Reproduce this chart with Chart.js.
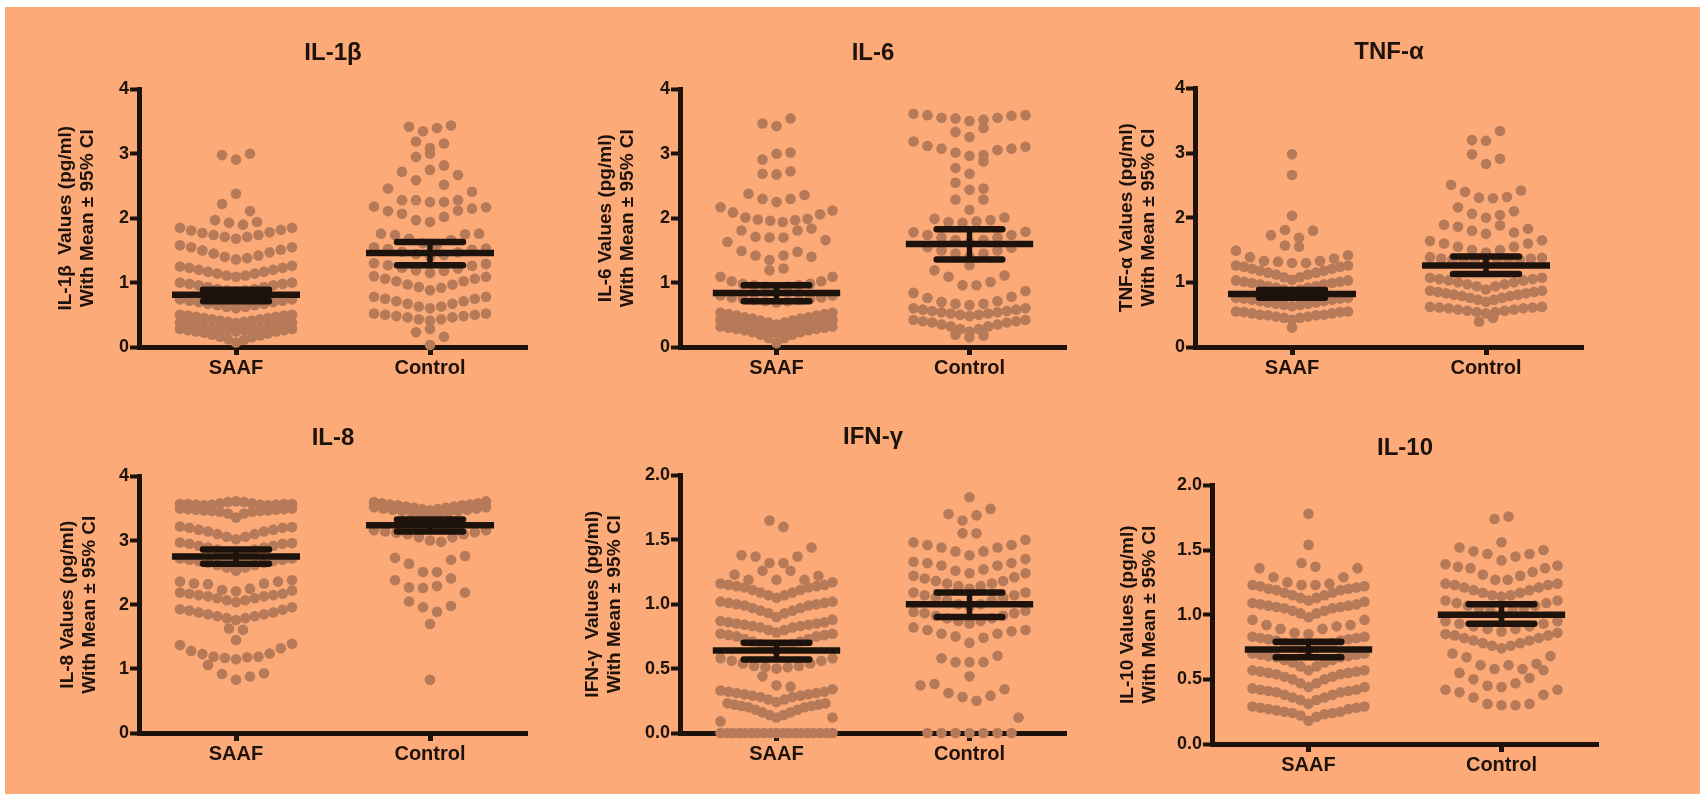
<!DOCTYPE html>
<html><head><meta charset="utf-8">
<script src="https://cdn.jsdelivr.net/npm/chart.js@4.4.1/dist/chart.umd.min.js"></script>
<style>
html,body{margin:0;padding:0;background:#ffffff;}
body{width:1706px;height:794px;position:relative;overflow:hidden;}
#bg{position:absolute;left:5px;top:7px;width:1695px;height:787px;background:#FCAA78;}
canvas{position:absolute;}
</style></head><body><div id="bg"></div>
<script>
// ---------- DATA (each inner list = one horizontal band, left to right) ----------
const categories = ['SAAF', 'Control'];

const il1bSAAF = [
  [2.98, 2.91, 3.00],
  [2.22, 2.38, 2.11],
  [1.97, 1.93, 1.90, 1.94],
  [1.85, 1.81, 1.77, 1.74, 1.71, 1.68, 1.71, 1.74, 1.78, 1.82, 1.85],
  [1.58, 1.55, 1.50, 1.45, 1.40, 1.36, 1.38, 1.42, 1.47, 1.51, 1.55],
  [1.25, 1.23, 1.20, 1.17, 1.14, 1.11, 1.09, 1.11, 1.14, 1.17, 1.20, 1.23, 1.26],
  [1.00, 0.98, 0.96, 0.93, 0.90, 0.88, 0.86, 0.88, 0.90, 0.93, 0.96, 0.98, 1.00],
  [0.74, 0.72, 0.70, 0.67, 0.65, 0.62, 0.60, 0.62, 0.65, 0.67, 0.70, 0.72, 0.74],
  [0.50, 0.49, 0.47, 0.45, 0.43, 0.41, 0.39, 0.37, 0.39, 0.41, 0.43, 0.45, 0.47, 0.49, 0.50],
  [0.38, 0.36, 0.34, 0.32, 0.30, 0.28, 0.26, 0.24, 0.26, 0.28, 0.30, 0.32, 0.34, 0.36, 0.38],
  [0.28, 0.26, 0.24, 0.22, 0.19, 0.16, 0.12, 0.07, 0.11, 0.15, 0.18, 0.21, 0.24, 0.26, 0.28]
];
const il1bControl = [
  [3.42, 3.35, 3.40, 3.44],
  [3.19, 3.09, 3.16],
  [2.95, 3.00, 2.82],
  [2.72, 2.59, 2.75, 2.52, 2.67],
  [2.46, 2.28, 2.28, 2.25, 2.25, 2.28, 2.41],
  [2.18, 2.11, 2.07, 1.97, 1.94, 2.02, 2.12, 2.15, 2.17],
  [1.76, 1.74, 1.68, 1.61, 1.58, 1.66, 1.75, 1.76],
  [1.55, 1.52, 1.48, 1.44, 1.40, 1.43, 1.47, 1.51, 1.53],
  [1.30, 1.27, 1.23, 1.19, 1.15, 1.18, 1.22, 1.26, 1.29],
  [1.10, 1.06, 1.02, 0.97, 0.93, 0.88, 0.92, 0.97, 1.02, 1.06, 1.09],
  [0.78, 0.75, 0.71, 0.67, 0.63, 0.60, 0.63, 0.67, 0.71, 0.75, 0.78],
  [0.52, 0.50, 0.48, 0.46, 0.43, 0.41, 0.43, 0.46, 0.48, 0.50, 0.52],
  [0.23, 0.28, 0.16],
  [0.03]
];
const il1bMean = [0.81, 1.46];
const il1bLow  = [0.71, 1.27];
const il1bHigh = [0.89, 1.63];

const il6SAAF = [
  [3.47, 3.43, 3.55],
  [2.91, 3.00, 3.02],
  [2.69, 2.68, 2.73],
  [2.38, 2.30, 2.25, 2.30, 2.36],
  [2.17, 2.09, 2.01, 1.98, 1.96, 1.94, 1.97, 1.99, 2.06, 2.12],
  [1.63, 1.81, 1.71, 1.70, 1.70, 1.81, 1.84, 1.66],
  [1.49, 1.42, 1.35, 1.42, 1.48, 1.40],
  [1.19, 1.22],
  [1.09, 1.02, 0.98, 0.96, 0.94, 0.92, 0.94, 0.96, 0.98, 1.02, 1.09],
  [0.80, 0.77, 0.75, 0.73, 0.71, 0.69, 0.71, 0.73, 0.75, 0.77, 0.80],
  [0.53, 0.51, 0.49, 0.46, 0.44, 0.41, 0.38, 0.35, 0.38, 0.41, 0.44, 0.46, 0.49, 0.51, 0.53],
  [0.42, 0.40, 0.38, 0.36, 0.33, 0.30, 0.27, 0.22, 0.27, 0.30, 0.33, 0.36, 0.38, 0.40, 0.42],
  [0.32, 0.30, 0.28, 0.26, 0.23, 0.19, 0.14, 0.06, 0.14, 0.19, 0.23, 0.26, 0.28, 0.30, 0.32]
];
const il6Control = [
  [3.62, 3.60, 3.56, 3.55, 3.51, 3.53, 3.56, 3.59, 3.60],
  [3.34, 3.26, 3.40],
  [3.19, 3.12, 3.08, 3.02, 2.97, 2.98, 3.06, 3.08, 3.11],
  [2.78, 2.69, 2.88],
  [2.55, 2.44, 2.46],
  [2.29, 2.13, 2.29],
  [1.99, 1.94, 1.93, 1.95, 1.97, 2.01],
  [1.78, 1.74, 1.70, 1.66, 1.62, 1.66, 1.70, 1.74, 1.79],
  [1.55, 1.50, 1.45, 1.40, 1.45, 1.50, 1.54],
  [1.27],
  [1.19, 1.09, 0.96, 0.96, 1.01, 1.11],
  [0.84, 0.76, 0.70, 0.67, 0.65, 0.67, 0.71, 0.78, 0.87],
  [0.60, 0.58, 0.56, 0.54, 0.52, 0.50, 0.48, 0.50, 0.52, 0.54, 0.56, 0.58, 0.60],
  [0.42, 0.40, 0.38, 0.35, 0.32, 0.28, 0.24, 0.28, 0.32, 0.35, 0.38, 0.40, 0.42],
  [0.19, 0.15, 0.18]
];
const il6Mean = [0.84, 1.60];
const il6Low  = [0.71, 1.36];
const il6High = [0.96, 1.83];

const tnfSAAF = [
  [2.98],
  [2.66],
  [2.03],
  [1.73, 1.81, 1.69, 1.80],
  [1.57, 1.55],
  [1.49, 1.39, 1.33, 1.32, 1.30, 1.30, 1.33, 1.37, 1.42],
  [1.26, 1.24, 1.21, 1.18, 1.15, 1.12, 1.08, 1.04, 1.08, 1.12, 1.15, 1.18, 1.21, 1.24, 1.26],
  [1.03, 1.01, 0.99, 0.97, 0.94, 0.92, 0.89, 0.86, 0.89, 0.92, 0.94, 0.97, 0.99, 1.01, 1.03],
  [0.76, 0.75, 0.73, 0.71, 0.69, 0.67, 0.65, 0.63, 0.65, 0.67, 0.69, 0.71, 0.73, 0.75, 0.76],
  [0.55, 0.54, 0.52, 0.50, 0.49, 0.47, 0.45, 0.42, 0.45, 0.47, 0.49, 0.50, 0.52, 0.54, 0.55],
  [0.30]
];
const tnfControl = [
  [3.20, 3.19, 3.34],
  [2.98, 2.83, 2.91],
  [2.51, 2.40, 2.31, 2.30, 2.32, 2.42],
  [2.16, 2.06, 2.00, 2.04, 2.10],
  [1.89, 1.86, 1.80, 1.75, 1.88, 1.77, 1.83],
  [1.64, 1.60, 1.55, 1.50, 1.46, 1.50, 1.55, 1.60, 1.65],
  [1.39, 1.37, 1.35, 1.33, 1.31, 1.29, 1.31, 1.33, 1.35, 1.37, 1.38],
  [1.07, 1.05, 1.03, 1.00, 0.97, 0.94, 0.89, 0.94, 0.97, 1.00, 1.03, 1.05, 1.07],
  [0.87, 0.85, 0.83, 0.81, 0.79, 0.76, 0.73, 0.70, 0.73, 0.76, 0.79, 0.81, 0.83, 0.85, 0.87],
  [0.62, 0.61, 0.60, 0.58, 0.56, 0.54, 0.52, 0.54, 0.56, 0.58, 0.60, 0.61, 0.62],
  [0.39, 0.45]
];
const tnfMean = [0.82, 1.26];
const tnfLow  = [0.76, 1.13];
const tnfHigh = [0.88, 1.40];

const il8SAAF = [
  [3.57, 3.57, 3.56, 3.55, 3.56, 3.58, 3.60, 3.61, 3.60, 3.58, 3.56, 3.55, 3.56, 3.57, 3.57],
  [3.50, 3.49, 3.48, 3.47, 3.46, 3.45, 3.42, 3.36, 3.42, 3.45, 3.46, 3.47, 3.48, 3.49, 3.50],
  [3.22, 3.20, 3.17, 3.14, 3.10, 3.06, 3.02, 3.06, 3.10, 3.14, 3.17, 3.20, 3.21],
  [2.97, 2.95, 2.92, 2.89, 2.86, 2.83, 2.80, 2.83, 2.86, 2.89, 2.92, 2.95, 2.96],
  [2.72, 2.70, 2.68, 2.65, 2.62, 2.58, 2.53, 2.58, 2.62, 2.65, 2.68, 2.70, 2.72],
  [2.36, 2.33, 2.32, 2.23, 2.21, 2.25, 2.33, 2.36, 2.38],
  [2.19, 2.17, 2.15, 2.13, 2.10, 2.07, 2.04, 2.07, 2.10, 2.13, 2.15, 2.17, 2.22],
  [1.93, 1.91, 1.88, 1.85, 1.82, 1.79, 1.76, 1.79, 1.82, 1.85, 1.88, 1.92, 1.96],
  [1.63, 1.61],
  [1.45],
  [1.37, 1.28, 1.23, 1.19, 1.17, 1.15, 1.18, 1.19, 1.24, 1.32, 1.39],
  [1.06, 0.92, 0.83, 0.88, 0.93]
];
const il8Control = [
  [3.60, 3.58, 3.56, 3.55, 3.53, 3.51, 3.49, 3.47, 3.49, 3.51, 3.53, 3.55, 3.56, 3.58, 3.61],
  [3.52, 3.50, 3.48, 3.46, 3.44, 3.42, 3.40, 3.42, 3.44, 3.46, 3.48, 3.50, 3.52],
  [3.16, 3.14, 3.12, 3.10, 3.05, 3.00, 2.98, 3.05, 3.10, 3.13, 3.16],
  [2.73, 2.64, 2.51, 2.51, 2.70, 2.76],
  [2.38, 2.27, 2.26, 2.29, 2.41, 2.19],
  [2.05, 1.96, 1.89, 1.98],
  [1.70],
  [0.83]
];
const il8Mean = [2.75, 3.24];
const il8Low  = [2.64, 3.14];
const il8High = [2.86, 3.33];

const ifnSAAF = [
  [1.65, 1.60],
  [1.38, 1.37, 1.32, 1.32, 1.37, 1.44],
  [1.23, 1.19, 1.26, 1.19, 1.26, 1.19, 1.22],
  [1.16, 1.15, 1.14, 1.13, 1.11, 1.09, 1.07, 1.05, 1.07, 1.09, 1.11, 1.13, 1.14, 1.15, 1.17],
  [1.02, 1.01, 1.00, 0.99, 0.97, 0.95, 0.93, 0.90, 0.93, 0.95, 0.97, 0.99, 1.00, 1.01, 1.02],
  [0.87, 0.86, 0.85, 0.84, 0.83, 0.82, 0.80, 0.78, 0.80, 0.82, 0.83, 0.84, 0.85, 0.86, 0.88],
  [0.77, 0.76, 0.75, 0.73, 0.71, 0.69, 0.67, 0.64, 0.67, 0.69, 0.71, 0.73, 0.75, 0.76, 0.77],
  [0.58, 0.56, 0.54, 0.52, 0.51, 0.50, 0.51, 0.52, 0.54, 0.56, 0.58],
  [0.44, 0.37, 0.36],
  [0.33, 0.32, 0.31, 0.30, 0.29, 0.28, 0.26, 0.24, 0.26, 0.28, 0.29, 0.30, 0.31, 0.32, 0.34],
  [0.09, 0.23, 0.22, 0.21, 0.20, 0.18, 0.16, 0.14, 0.12, 0.14, 0.16, 0.18, 0.20, 0.21, 0.22, 0.23, 0.12],
  [0, 0, 0, 0, 0, 0, 0, 0, 0, 0, 0, 0, 0, 0, 0, 0, 0, 0, 0]
];
const ifnControl = [
  [1.83],
  [1.70, 1.65, 1.69, 1.74],
  [1.55, 1.55],
  [1.48, 1.46, 1.44, 1.41, 1.38, 1.41, 1.44, 1.46, 1.50],
  [1.33, 1.32, 1.30, 1.26, 1.24, 1.27, 1.30, 1.32, 1.35],
  [1.22, 1.20, 1.18, 1.16, 1.14, 1.12, 1.14, 1.16, 1.18, 1.21, 1.24],
  [1.09, 1.07, 1.05, 1.03, 1.00, 0.98, 1.00, 1.03, 1.05, 1.07, 1.09],
  [0.94, 0.93, 0.91, 0.89, 0.87, 0.85, 0.87, 0.89, 0.91, 0.93, 0.95],
  [0.82, 0.80, 0.77, 0.75, 0.70, 0.74, 0.77, 0.79, 0.80],
  [0.58, 0.55, 0.55, 0.55, 0.60],
  [0.44],
  [0.37, 0.38, 0.31, 0.28, 0.25, 0.29, 0.34, 0.12],
  [0, 0, 0, 0, 0, 0, 0]
];
const ifnMean = [0.64, 1.00];
const ifnLow  = [0.57, 0.90];
const ifnHigh = [0.70, 1.09];

const il10SAAF = [
  [1.78],
  [1.54],
  [1.40, 1.37],
  [1.36, 1.29, 1.25, 1.23, 1.23, 1.24, 1.29, 1.36],
  [1.23, 1.22, 1.20, 1.19, 1.17, 1.15, 1.13, 1.11, 1.13, 1.15, 1.17, 1.19, 1.20, 1.21, 1.22],
  [1.09, 1.08, 1.07, 1.06, 1.05, 1.03, 1.01, 0.98, 1.01, 1.03, 1.05, 1.06, 1.07, 1.08, 1.10],
  [0.96, 0.92, 0.89, 0.86, 0.85, 0.89, 0.91, 0.92, 0.96],
  [0.83, 0.82, 0.81, 0.80, 0.78, 0.76, 0.74, 0.72, 0.74, 0.76, 0.78, 0.80, 0.81, 0.82, 0.83],
  [0.70, 0.69, 0.68, 0.67, 0.65, 0.63, 0.60, 0.57, 0.60, 0.63, 0.65, 0.67, 0.68, 0.69, 0.70],
  [0.57, 0.56, 0.55, 0.54, 0.52, 0.50, 0.47, 0.44, 0.47, 0.50, 0.52, 0.54, 0.55, 0.56, 0.57],
  [0.43, 0.42, 0.41, 0.40, 0.38, 0.36, 0.34, 0.31, 0.34, 0.36, 0.38, 0.40, 0.41, 0.42, 0.44],
  [0.29, 0.28, 0.27, 0.26, 0.25, 0.24, 0.22, 0.18, 0.21, 0.23, 0.24, 0.25, 0.27, 0.28, 0.29]
];
const il10Control = [
  [1.74, 1.76],
  [1.56],
  [1.52, 1.49, 1.47, 1.42, 1.45, 1.47, 1.50],
  [1.39, 1.37, 1.36, 1.31, 1.27, 1.27, 1.30, 1.33, 1.36, 1.38],
  [1.24, 1.23, 1.21, 1.19, 1.17, 1.15, 1.14, 1.15, 1.17, 1.19, 1.21, 1.23, 1.24],
  [1.11, 1.09, 1.07, 1.05, 1.03, 1.00, 1.03, 1.05, 1.07, 1.09, 1.11],
  [0.95, 0.93, 0.91, 0.89, 0.87, 0.89, 0.91, 0.93, 0.95],
  [0.85, 0.84, 0.82, 0.80, 0.78, 0.76, 0.74, 0.76, 0.78, 0.80, 0.82, 0.84, 0.86],
  [0.70, 0.67, 0.61, 0.58, 0.61, 0.58, 0.62, 0.68],
  [0.55, 0.50, 0.45, 0.44, 0.47, 0.51, 0.57],
  [0.42, 0.40, 0.36, 0.31, 0.30, 0.30, 0.31, 0.38, 0.42]
];
const il10Mean = [0.73, 1.00];
const il10Low  = [0.67, 0.93];
const il10High = [0.79, 1.08];

const panelTitles = ['IL-1β', 'IL-6', 'TNF-α', 'IL-8', 'IFN-γ', 'IL-10'];
const yTitles = [
  ['IL-1β  Values (pg/ml)', 'With Mean ± 95% CI'],
  ['IL-6 Values (pg/ml)', 'With Mean ± 95% CI'],
  ['TNF-α Values (pg/ml)', 'With Mean ± 95% CI'],
  ['IL-8 Values (pg/ml)', 'With Mean ± 95% CI'],
  ['IFN-γ  Values (pg/ml)', 'With Mean ± 95% CI'],
  ['IL-10 Values (pg/ml)', 'With Mean ± 95% CI']
];
const yMaxes = [4, 4, 4, 4, 2, 2];
const yStepSizes = [1, 1, 1, 1, 0.5, 0.5];

// ---------- STYLE / LAYOUT ----------
const FONT = '"Liberation Sans", Arial, Helvetica, sans-serif';
const INK = '#1d130c';
const DOT = '#B67A59';
const DOT_R = 5.3;
const ROW_STEP_PX = 14;     // max horizontal gap between neighbouring symbols
const ROW_SPREAD_PX = 112;  // max width of a band of symbols
const MEAN_HALF = 0.33;     // half length of mean line (x units)
const CAP_HALF = 0.17;      // half length of CI caps (x units)
const Y_W = 130, X_H = 44;
const TITLE_SIZE = 24;

const layouts = [
  {left:139,  right:527,  top:89,  bottom:347, titleY:53,  yGap:51},
  {left:680,  right:1066, top:89,  bottom:347, titleY:53,  yGap:52},
  {left:1195, right:1583, top:88,  bottom:347, titleY:52,  yGap:46},
  {left:139,  right:527,  top:476, bottom:733, titleY:438, yGap:49},
  {left:680,  right:1066, top:475, bottom:733, titleY:437, yGap:65},
  {left:1212, right:1598, top:485, bottom:744, titleY:448, yGap:62}
];

const panelGroups = [
  [il1bSAAF, il1bControl], [il6SAAF, il6Control], [tnfSAAF, tnfControl],
  [il8SAAF, il8Control], [ifnSAAF, ifnControl], [il10SAAF, il10Control]
];
const panelStats = [
  [il1bMean, il1bLow, il1bHigh], [il6Mean, il6Low, il6High], [tnfMean, tnfLow, tnfHigh],
  [il8Mean, il8Low, il8High], [ifnMean, ifnLow, ifnHigh], [il10Mean, il10Low, il10High]
];

// spread each band of values horizontally around its category (column scatter)
function swarm(rows, cat, pxPerUnit) {
  const pts = [];
  rows.forEach(row => {
    const n = row.length;
    const gap = n > 1 ? Math.min(ROW_STEP_PX, ROW_SPREAD_PX / (n - 1)) : 0;
    row.forEach((v, i) => pts.push({x: cat + (i - (n - 1) / 2) * gap / pxPerUnit, y: v}));
  });
  return pts;
}

function errorBarPlugin(mean, lo, hi) {
  return {
    id: 'meanCI',
    afterDatasetsDraw(chart) {
      const {ctx} = chart; const xs = chart.scales.x, ys = chart.scales.y;
      ctx.save();
      ctx.strokeStyle = INK;
      const seg = (x1, y1, x2, y2) => { ctx.beginPath(); ctx.moveTo(x1, y1); ctx.lineTo(x2, y2); ctx.stroke(); };
      mean.forEach((m, i) => {
        const c = i + 1;
        const xc = xs.getPixelForValue(c);
        const ym = ys.getPixelForValue(m), yl = ys.getPixelForValue(lo[i]), yh = ys.getPixelForValue(hi[i]);
        ctx.lineCap = 'butt'; ctx.lineWidth = 5.5;
        seg(xc, yh, xc, yl);
        ctx.lineCap = 'round'; ctx.lineWidth = 6.5;
        seg(xs.getPixelForValue(c - CAP_HALF), yh, xs.getPixelForValue(c + CAP_HALF), yh);
        seg(xs.getPixelForValue(c - CAP_HALF), yl, xs.getPixelForValue(c + CAP_HALF), yl);
        ctx.lineCap = 'butt'; ctx.lineWidth = 6.5;
        seg(xs.getPixelForValue(c - MEAN_HALF), ym, xs.getPixelForValue(c + MEAN_HALF), ym);
      });
      ctx.restore();
    }
  };
}

layouts.forEach((b, k) => {
  const cv = document.createElement('canvas');
  const left = b.left - Y_W, top = b.titleY - TITLE_SIZE * 0.6;
  const w = b.right - left + 6, h = b.bottom - top + X_H;
  cv.width = w; cv.height = h;
  cv.style.left = left + 'px'; cv.style.top = top + 'px';
  cv.style.width = w + 'px'; cv.style.height = h + 'px';
  document.body.appendChild(cv);
  const pxPerUnit = (b.right - b.left) / 2;
  const datasets = panelGroups[k].map((rows, gi) => ({
    label: categories[gi],
    data: swarm(rows, gi + 1, pxPerUnit),
    backgroundColor: DOT, borderWidth: 0,
    pointRadius: DOT_R, pointHoverRadius: DOT_R,
    clip: false
  }));
  const dec = yStepSizes[k] < 1 ? 1 : 0;
  const lh = 19 * 1.15;
  const [mean, lo, hi] = panelStats[k];
  new Chart(cv, {
    type: 'scatter',
    data: {datasets},
    options: {
      responsive: false, animation: false, devicePixelRatio: 1,
      events: [],
      layout: {padding: {left: 0, right: 6, top: 0, bottom: 0}},
      plugins: {
        legend: {display: false}, tooltip: {enabled: false},
        title: {display: true, fullSize: false, text: panelTitles[k], color: INK,
          font: {family: FONT, size: TITLE_SIZE, weight: 'bold', lineHeight: 1.2},
          padding: {top: 0, bottom: (b.top - top) - TITLE_SIZE * 1.2}}
      },
      scales: {
        x: {
          type: 'linear', min: 0.5, max: 2.5,
          afterBuildTicks: s => { s.ticks = [{value: 1}, {value: 2}]; },
          afterFit: s => { s.height = X_H; },
          ticks: {callback: v => categories[v - 1], color: INK, autoSkip: false, maxRotation: 0,
            font: {family: FONT, size: 20, weight: 'bold'}, padding: 1},
          grid: {drawOnChartArea: false, drawTicks: true, tickLength: 8, tickWidth: 5, tickColor: INK},
          border: {display: true, width: 5, color: INK}
        },
        y: {
          min: 0, max: yMaxes[k],
          afterFit: s => { s.width = Y_W; },
          ticks: {stepSize: yStepSizes[k], callback: v => Number(v).toFixed(dec), color: INK,
            font: {family: FONT, size: 18, weight: 'bold'}, padding: 1},
          grid: {drawOnChartArea: false, drawTicks: true, tickLength: 9, tickWidth: 4, tickColor: INK},
          border: {display: true, width: 5, color: INK},
          title: {display: true, text: yTitles[k], color: INK,
            font: {family: FONT, size: 19, weight: 'bold', lineHeight: 1.15},
            padding: {top: Y_W - b.yGap - lh - lh / 2, bottom: 0}}
        }
      }
    },
    plugins: [errorBarPlugin(mean, lo, hi)]
  });
});
</script>
</body></html>
